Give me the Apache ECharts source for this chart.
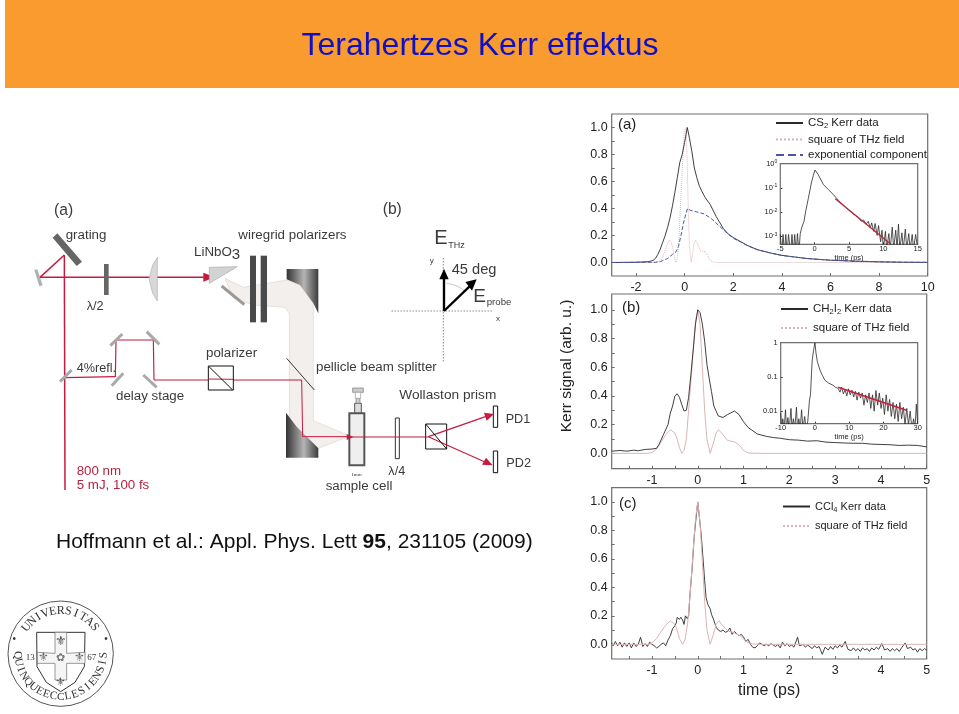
<!DOCTYPE html>
<html>
<head>
<meta charset="utf-8">
<title>Terahertzes Kerr effektus</title>
<script src="https://cdn.jsdelivr.net/npm/echarts@6/dist/echarts.min.js"></script>
<style>
  html, body { margin: 0; padding: 0; background: #fff; }
  #chart { width: 959px; height: 714px; }
</style>
</head>
<body>
<div id="chart"></div>
<script>
// tick labels
const yTicks = [0, 0.2, 0.4, 0.6, 0.8, 1.0]
const yTickMarks = [0, 0.1, 0.2, 0.3, 0.4, 0.5, 0.6, 0.7, 0.8, 0.9, 1.0]
const xTicksA = [-2, 0, 2, 4, 6, 8, 10]
const xTicksBC = [-1, 0, 1, 2, 3, 4, 5]
const xTickMarksBC = [-1.5, -1, -0.5, 0, 0.5, 1, 1.5, 2, 2.5, 3, 3.5, 4, 4.5, 5]
const logTicksA = [0.001, 0.01, 0.1, 1]
const logTicksB = [0.01, 0.1, 1]

// panel (a) CS2, [time ps, signal]
const cs2Kerr = [[-3, 0], [-2.5, 0.001], [-2, 0.002], [-1.5, 0.006], [-1.3, 0.015], [-1.2, 0.03], [-1.1, 0.06], [-1, 0.1], [-0.9, 0.15], [-0.8, 0.2], [-0.7, 0.26], [-0.6, 0.33], [-0.5, 0.42], [-0.4, 0.52], [-0.3, 0.63], [-0.2, 0.74], [-0.1, 0.8], [0, 0.89], [0.11, 1.0], [0.2, 0.92], [0.3, 0.82], [0.4, 0.7], [0.5, 0.63], [0.6, 0.57], [0.7, 0.53], [0.85, 0.48], [1.05, 0.43], [1.3, 0.34], [1.6, 0.25], [1.8, 0.21], [2, 0.185], [2.3, 0.155], [2.6, 0.125], [3, 0.095], [3.5, 0.072], [4, 0.053], [5, 0.03], [6, 0.017], [7, 0.01], [8, 0.005], [9, 0.002], [10, 0.001]]
const cs2Field = [[-3, 0], [-1.2, 0], [-1, 0.01], [-0.9, 0.04], [-0.8, 0.09], [-0.7, 0.14], [-0.62, 0.165], [-0.55, 0.15], [-0.48, 0.1], [-0.42, 0.04], [-0.36, 0], [-0.3, 0.03], [-0.24, 0.15], [-0.18, 0.38], [-0.1, 0.68], [-0.02, 0.95], [0.05, 1.0], [0.1, 0.78], [0.15, 0.4], [0.2, 0.12], [0.27, 0], [0.33, 0.07], [0.38, 0.14], [0.45, 0.165], [0.55, 0.13], [0.65, 0.09], [0.85, 0.08], [0.95, 0.05], [1.05, 0.015], [1.2, 0.002], [1.5, 0], [10, 0]]
const cs2Exp = [[-3, 0], [-1.2, 0.002], [-1, 0.006], [-0.7, 0.03], [-0.5, 0.06], [-0.35, 0.08], [-0.25, 0.12], [-0.15, 0.2], [-0.05, 0.29], [0.05, 0.36], [0.12, 0.4], [0.25, 0.385], [0.5, 0.375], [0.8, 0.36], [1.1, 0.325], [1.4, 0.275], [1.7, 0.225], [2, 0.18], [2.3, 0.152], [2.6, 0.123], [3, 0.094], [3.5, 0.071], [4, 0.052], [5, 0.03], [6, 0.017], [7, 0.01], [8, 0.005], [9, 0.002], [10, 0.001]]

// inset of (a), log scale
const cs2Log = [[-5, 0.0012], [-4.8, 0.0002], [-4.6, 0.0012], [-4.4, 0.0002], [-4.2, 0.0012], [-4, 0.0002], [-3.8, 0.0012], [-3.5, 0.0002], [-3.3, 0.0012], [-3.1, 0.0002], [-2.9, 0.0012], [-2.7, 0.0002], [-2.5, 0.0013], [-2.3, 0.0002], [-2.1, 0.0013], [-1.9, 0.0022], [-1.7, 0.0032], [-1.55, 0.0042], [-1.3, 0.011], [-0.92, 0.037], [-0.65, 0.09], [-0.44, 0.18], [-0.2, 0.32], [0.05, 0.55], [0.5, 0.36], [1.26, 0.14], [2, 0.085], [2.7, 0.054], [3.5, 0.03], [4.66, 0.0144], [5.5, 0.009], [6.3, 0.0062], [6.8, 0.0042], [7.1, 0.0048], [7.5, 0.0032], [7.8, 0.0042], [8.1, 0.0022], [8.3, 0.0036], [8.6, 0.0016], [8.8, 0.0034], [9.1, 0.0011], [9.3, 0.0028], [9.6, 0.0006], [9.8, 0.0018], [10, 0.0003], [10.3, 0.0016], [10.5, 0.0003], [10.8, 0.0013], [11, 0.0003], [11.3, 0.0024], [11.5, 0.0003], [11.8, 0.0018], [12, 0.0003], [12.2, 0.0032], [12.4, 0.0003], [12.7, 0.0014], [12.9, 0.0003], [13.2, 0.002], [13.4, 0.0003], [13.7, 0.0013], [13.9, 0.0003], [14.2, 0.0012], [14.4, 0.0003], [14.7, 0.0012], [15, 0.0003]]
const cs2Fit = [[3, 0.036], [11, 0.0005]]

// panel (b) CH2I2
const ch2i2Kerr = [[-1.88, 0.015], [-1.7, 0.02], [-1.55, 0.015], [-1.4, 0.022], [-1.3, 0.018], [-1.15, 0.027], [-1, 0.03], [-0.9, 0.035], [-0.85, 0.06], [-0.75, 0.13], [-0.65, 0.2], [-0.6, 0.28], [-0.55, 0.33], [-0.5, 0.4], [-0.45, 0.415], [-0.4, 0.39], [-0.35, 0.34], [-0.3, 0.295], [-0.25, 0.3], [-0.2, 0.39], [-0.15, 0.55], [-0.1, 0.72], [-0.05, 0.9], [0, 1.0], [0.05, 0.98], [0.1, 0.9], [0.15, 0.78], [0.2, 0.62], [0.25, 0.52], [0.3, 0.43], [0.35, 0.33], [0.45, 0.26], [0.55, 0.25], [0.65, 0.27], [0.8, 0.295], [0.9, 0.27], [1, 0.22], [1.1, 0.18], [1.3, 0.135], [1.5, 0.118], [1.65, 0.11], [1.8, 0.105], [2, 0.095], [2.2, 0.092], [2.4, 0.085], [2.6, 0.088], [2.8, 0.078], [3, 0.075], [3.2, 0.072], [3.4, 0.07], [3.6, 0.07], [3.8, 0.064], [4, 0.062], [4.2, 0.06], [4.4, 0.055], [4.6, 0.057], [4.8, 0.055], [5, 0.045]]
const ch2i2Field = [[-1.88, 0], [-1.1, 0], [-1, 0.005], [-0.9, 0.03], [-0.8, 0.08], [-0.7, 0.13], [-0.6, 0.165], [-0.5, 0.14], [-0.45, 0.1], [-0.4, 0.04], [-0.35, 0], [-0.3, 0.02], [-0.25, 0.1], [-0.2, 0.3], [-0.15, 0.5], [-0.1, 0.72], [-0.05, 0.92], [0, 1.0], [0.05, 0.9], [0.1, 0.6], [0.15, 0.3], [0.2, 0.1], [0.27, 0], [0.33, 0.06], [0.4, 0.14], [0.45, 0.165], [0.55, 0.13], [0.65, 0.09], [0.8, 0.08], [0.9, 0.06], [1, 0.02], [1.1, 0.003], [1.3, 0], [5, 0]]

// inset of (b)
const ch2i2Log = [[-10, 0.009], [-9.7, 0.003], [-9.4, 0.006], [-9, 0.003], [-8.6, 0.011], [-8.3, 0.003], [-7.9, 0.0065], [-7.5, 0.003], [-7, 0.012], [-6.7, 0.003], [-6.3, 0.006], [-5.9, 0.003], [-5.4, 0.013], [-5.1, 0.003], [-4.7, 0.006], [-4.3, 0.003], [-3.9, 0.011], [-3.5, 0.003], [-3, 0.007], [-2.6, 0.003], [-2.1, 0.005], [-1.6, 0.021], [-1.3, 0.03], [-1, 0.13], [-0.8, 0.31], [-0.4, 0.6], [0, 1], [0.3, 0.5], [0.7, 0.28], [1, 0.3], [1.45, 0.16], [2, 0.12], [2.9, 0.08], [4, 0.066], [5.3, 0.057], [6, 0.05], [6.8, 0.046], [7.3, 0.036], [7.8, 0.05], [8.3, 0.032], [8.8, 0.042], [9.3, 0.028], [9.8, 0.045], [10.3, 0.03], [10.8, 0.041], [11.3, 0.026], [11.8, 0.038], [12.3, 0.021], [12.8, 0.036], [13.3, 0.024], [13.8, 0.034], [14.3, 0.015], [14.8, 0.03], [15.3, 0.018], [15.8, 0.034], [16.3, 0.012], [16.8, 0.03], [17.3, 0.01], [17.8, 0.04], [18.3, 0.015], [18.8, 0.034], [19.3, 0.012], [19.8, 0.024], [20.3, 0.008], [20.8, 0.03], [21.3, 0.01], [21.8, 0.022], [22.3, 0.007], [22.8, 0.018], [23.3, 0.006], [23.8, 0.016], [24.3, 0.005], [24.8, 0.018], [25.3, 0.006], [25.8, 0.013], [26.3, 0.004], [26.8, 0.012], [27.3, 0.004], [27.8, 0.01], [28.3, 0.003], [28.8, 0.006], [29.2, 0.003], [29.6, 0.016], [30, 0.004]]
const ch2i2Fit = [[6.8, 0.05], [26.7, 0.0107]]

// panel (c) CCl4
const ccl4Kerr = [[-1.88, 0.01], [-1.85, -0.01], [-1.8, 0.02], [-1.75, -0.01], [-1.7, 0.015], [-1.65, -0.02], [-1.6, 0.01], [-1.55, -0.015], [-1.5, 0.01], [-1.45, -0.025], [-1.4, 0.01], [-1.35, -0.015], [-1.3, 0], [-1.25, 0.05], [-1.2, -0.015], [-1.15, 0.005], [-1.1, -0.015], [-1.05, 0.015], [-1, 0], [-0.95, -0.01], [-0.9, -0.025], [-0.85, -0.015], [-0.8, 0], [-0.75, 0.01], [-0.7, -0.01], [-0.65, 0.03], [-0.6, 0.06], [-0.55, 0.11], [-0.5, 0.13], [-0.47, 0.15], [-0.45, 0.19], [-0.4, 0.175], [-0.37, 0.19], [-0.33, 0.17], [-0.3, 0.14], [-0.27, 0.2], [-0.23, 0.18], [-0.2, 0.2], [-0.17, 0.35], [-0.12, 0.55], [-0.08, 0.75], [-0.04, 0.88], [0, 1.0], [0.04, 0.88], [0.08, 0.75], [0.12, 0.58], [0.15, 0.45], [0.18, 0.33], [0.22, 0.28], [0.27, 0.25], [0.3, 0.21], [0.35, 0.17], [0.4, 0.12], [0.45, 0.1], [0.5, 0.09], [0.55, 0.1], [0.6, 0.085], [0.65, 0.09], [0.7, 0.115], [0.75, 0.07], [0.8, 0.09], [0.85, 0.075], [0.9, 0.06], [0.95, 0.07], [1, 0.05], [1.05, 0.02], [1.1, 0.035], [1.15, 0], [1.2, -0.02], [1.25, -0.025], [1.3, -0.01], [1.35, 0.01], [1.4, 0], [1.45, -0.01], [1.5, 0], [1.55, -0.01], [1.6, 0.005], [1.65, -0.005], [1.7, -0.015], [1.75, 0], [1.8, -0.025], [1.85, 0.015], [1.9, -0.01], [1.95, 0.005], [2, -0.015], [2.05, -0.005], [2.1, -0.02], [2.18, 0.05], [2.22, -0.01], [2.3, 0], [2.35, -0.02], [2.4, -0.005], [2.5, -0.03], [2.55, -0.01], [2.6, -0.025], [2.65, -0.015], [2.72, -0.07], [2.78, -0.02], [2.85, -0.04], [2.9, -0.015], [2.95, -0.035], [3, -0.01], [3.05, -0.025], [3.1, -0.005], [3.15, -0.02], [3.22, 0.02], [3.28, -0.035], [3.35, -0.045], [3.4, -0.025], [3.45, -0.045], [3.5, -0.03], [3.55, -0.05], [3.6, -0.025], [3.65, -0.04], [3.7, -0.03], [3.75, -0.05], [3.8, -0.025], [3.85, -0.04], [3.9, -0.02], [3.95, -0.035], [4.02, 0.005], [4.08, -0.04], [4.15, -0.03], [4.2, -0.05], [4.25, -0.03], [4.3, -0.045], [4.35, -0.03], [4.4, -0.05], [4.45, -0.025], [4.53, 0.01], [4.58, -0.03], [4.65, -0.02], [4.7, -0.04], [4.75, -0.03], [4.8, -0.055], [4.85, -0.03], [4.9, -0.045], [4.95, -0.03], [5, -0.04]]
const ccl4Field = [[-1.88, 0], [-1.05, 0], [-1, 0.01], [-0.9, 0.04], [-0.8, 0.09], [-0.7, 0.135], [-0.6, 0.165], [-0.5, 0.14], [-0.45, 0.1], [-0.4, 0.04], [-0.33, 0], [-0.28, 0.03], [-0.22, 0.15], [-0.16, 0.38], [-0.1, 0.66], [-0.05, 0.88], [0, 1.0], [0.05, 0.85], [0.1, 0.58], [0.15, 0.3], [0.2, 0.1], [0.27, 0], [0.33, 0.06], [0.4, 0.14], [0.46, 0.165], [0.55, 0.13], [0.65, 0.095], [0.8, 0.08], [0.95, 0.055], [1.05, 0.02], [1.2, 0.002], [1.4, 0], [5, 0]]

const blackLine = '#2a2a2a'
const fieldLine = '#dcb4b6'
const blueLine = '#4a55a8'
const frameColor = '#6e6e6e'
const font = 'Liberation Sans'

// plot boxes in pixels
const boxes = [
  { left: 611.7, top: 114, width: 316, height: 162 },
  { left: 611.7, top: 294, width: 315, height: 174.7 },
  { left: 611.7, top: 487.7, width: 315, height: 171.3 },
  { left: 780.3, top: 163.7, width: 137.4, height: 80.6 },
  { left: 780.7, top: 342.7, width: 137, height: 81 }
]

function mainX(min, max, marks, labels, extra) {
  return Object.assign({
    type: 'value', min, max,
    splitLine: { show: false },
    axisLine: { show: false, onZero: false },
    axisTick: { inside: true, length: 3, lineStyle: { color: frameColor }, customValues: marks },
    axisLabel: { fontFamily: font, fontSize: 12.5, color: '#222', margin: 5, customValues: labels }
  }, extra)
}
function mainY(min, max) {
  return {
    type: 'value', min, max,
    splitLine: { show: false },
    axisLine: { show: false, onZero: false },
    axisTick: { inside: true, length: 3, lineStyle: { color: frameColor }, customValues: yTickMarks },
    axisLabel: {
      fontFamily: font, fontSize: 12.5, color: '#222', margin: 4, customValues: yTicks,
      formatter: v => v.toFixed(1)
    }
  }
}
function insetX(min, max, interval, margin, nameGap) {
  return {
    type: 'value', min, max, interval,
    splitLine: { show: false },
    axisLine: { show: false, onZero: false },
    axisTick: { inside: true, length: 2, lineStyle: { color: '#333' } },
    axisLabel: { fontFamily: font, fontSize: 7.5, color: '#222', margin },
    name: 'time (ps)', nameLocation: 'middle', nameGap,
    nameTextStyle: { fontFamily: font, fontSize: 7.5, color: '#222' }
  }
}
function insetY(min, max, ticks, formatter, rich) {
  return {
    type: 'log', logBase: 10, min, max,
    splitLine: { show: false },
    axisLine: { show: false, onZero: false },
    axisTick: { inside: true, length: 2, lineStyle: { color: '#333' }, customValues: ticks },
    axisLabel: { fontFamily: font, fontSize: 7.5, color: '#222', margin: 3, customValues: ticks, formatter, rich }
  }
}
function line(name, data, idx, color, width, type, z) {
  return {
    name, data, type: 'line', xAxisIndex: idx, yAxisIndex: idx,
    symbol: 'none', smooth: false, silent: true, z: z || 2, animation: false,
    lineStyle: { color, width, type: type || 'solid' },
    itemStyle: { color }
  }
}

// schematic, coordinates are in the 3x crop space of each group
const labelGray = '#3a3a3a'
const beam = '#c51b3f'
function txt(x, y, text, size, color, extra) {
  return {
    type: 'text', x, y,
    style: Object.assign({
      text, fontFamily: font, fontSize: size, fill: color || labelGray,
      verticalAlign: 'middle', align: 'left'
    }, extra)
  }
}
function poly(points, fill, stroke, lw) {
  return { type: 'polygon', shape: { points }, style: { fill: fill || 'none', stroke: stroke || 'none', lineWidth: lw || 1 } }
}
function seg(x1, y1, x2, y2, color, lw, dash) {
  return { type: 'line', shape: { x1, y1, x2, y2 }, style: { stroke: color, lineWidth: lw, lineDash: dash || null } }
}
function box(x, y, width, height, fill, stroke, lw) {
  return { type: 'rect', shape: { x, y, width, height }, style: { fill: fill || 'none', stroke: stroke || 'none', lineWidth: lw || 1 } }
}
const mirrorFill = {
  type: 'linear', x: 0, y: 0, x2: 1, y2: 0,
  colorStops: [{ offset: 0, color: '#333' }, { offset: 0.55, color: '#b5b5b5' }, { offset: 1, color: '#3c3c3c' }]
}

const leftParts = [
  poly([[585, 265], [640, 292], [770, 270], [810, 285], [850, 340], [850, 692], [960, 738], [865, 775], [778, 690], [778, 370], [765, 352], [670, 345], [610, 325]], '#f2efed', '#cfcbc9', 1.5),
  txt(72, 62, '(a)', 47),
  poly([[68, 143], [82, 130], [156, 215], [140, 228]], '#666'),
  txt(107, 137, 'grating', 40),
  poly([[13, 240], [22, 238], [38, 286], [28, 289]], '#b0b0b0'),
  seg(105, 900, 103, 195, beam, 4.5),
  seg(103, 195, 30, 262, beam, 4.5),
  seg(30, 262, 525, 262, beam, 4.5),
  poly([[520, 248], [555, 262], [520, 275]], beam),
  box(222, 222, 14, 93, '#666'),
  txt(170, 350, 'λ/2', 38),
  poly([[382, 202], [368, 225], [357, 267], [368, 310], [382, 333]], '#d8d8d8', '#b0b0b0', 2),
  poly([[538, 232], [622, 230], [538, 280]], '#d2d4d4', '#a9a9a9', 2),
  { type: 'text', x: 492, y: 187, style: {
    text: 'LiNbO{s|3}', fontFamily: font, fontSize: 40, fill: labelGray, verticalAlign: 'middle',
    rich: { s: { fontFamily: font, fontSize: 45, fill: labelGray, verticalAlign: 'bottom', padding: [14, 0, 0, 0] } }
  } },
  seg(575, 288, 643, 344, '#9a9a9a', 9),
  box(660, 197, 18, 200, '#4a4a4a'),
  box(692, 197, 19, 200, '#4a4a4a'),
  txt(625, 137, 'wiregrid polarizers', 40),
  poly([[770, 237], [865, 237], [865, 370], [850, 340], [810, 285], [770, 268]], mirrorFill),
  poly([[768, 668], [800, 710], [865, 775], [865, 803], [768, 803]], mirrorFill),
  seg(770, 505, 853, 600, '#111', 2.5),
  seg(105, 563, 255, 560, beam, 3.5),
  seg(256, 561, 258, 450, beam, 3.5),
  seg(258, 450, 370, 450, beam, 3.5),
  seg(370, 450, 372, 570, beam, 3.5),
  seg(372, 570, 815, 570, beam, 3),
  seg(815, 570, 818, 740, beam, 3),
  seg(818, 740, 960, 740, beam, 3),
  seg(90, 575, 125, 540, '#a9a9a9', 9),
  seg(241, 467, 277, 432, '#a9a9a9', 9),
  seg(350, 425, 388, 463, '#a9a9a9', 9),
  seg(245, 587, 280, 550, '#a9a9a9', 9),
  seg(340, 555, 380, 592, '#a9a9a9', 9),
  txt(140, 535, '4%refl.', 38),
  txt(258, 620, 'delay stage', 40),
  txt(528, 490, 'polarizer', 40),
  box(535, 528, 75, 72, '#fff', '#111', 3),
  seg(535, 567, 610, 568, beam, 3),
  seg(537, 530, 608, 600, '#111', 3),
  txt(140, 843, '800 nm', 40, '#b3243f'),
  txt(140, 887, '5 mJ, 100 fs', 40, '#b3243f')
]

const rightParts = [
  txt(308, 60, '(b)', 47),
  txt(463, 145, 'E', 60),
  txt(505, 166, 'THz', 27),
  txt(449, 213, 'y', 24),
  seg(490, 205, 490, 520, '#333', 2.5, [3, 6]),
  seg(335, 363, 640, 363, '#333', 2.5, [3, 6]),
  { type: 'bezierCurve', shape: { x1: 500, y1: 280, x2: 552, y2: 302, cpx1: 530, cpy1: 284, cpx2: 545, cpy2: 295 }, style: { fill: 'none', stroke: '#aaa', lineWidth: 2 } },
  seg(492, 363, 492, 260, '#000', 7),
  poly([[478, 268], [492, 236], [506, 268]], '#000'),
  seg(492, 363, 568, 290, '#000', 7),
  poly([[556, 276], [590, 268], [576, 302]], '#000'),
  txt(515, 240, '45 deg', 44),
  txt(580, 320, 'E', 57),
  txt(620, 338, 'probe', 29),
  txt(648, 386, 'x', 24),
  txt(108, 531, 'pellicle beam splitter', 40),
  txt(358, 617, 'Wollaston prism', 41),
  txt(677, 688, 'PD1', 38),
  txt(679, 820, 'PD2', 38),
  box(640, 648, 13, 64, '#fff', '#111', 3),
  box(640, 783, 13, 65, '#fff', '#111', 3),
  box(224, 640, 20, 30, '#ddd', '#555', 3),
  box(228, 625, 12, 15, '#ccc', '#777', 2),
  box(218, 594, 32, 13, '#ccc', '#777', 2),
  box(226, 607, 16, 18, '#fff', '#999', 2),
  box(208, 670, 45, 156, '#efefef', '#555', 6),
  seg(210, 741, 253, 741, beam, 3),
  poly([[200, 732], [220, 741], [200, 750]], beam),
  txt(214, 854, '1mm', 15, '#333', { fontFamily: 'Liberation Serif' }),
  box(346, 684, 12, 122, '#fff', '#333', 3),
  seg(253, 741, 440, 741, beam, 3),
  txt(325, 846, 'λ/4', 38),
  txt(137, 889, 'sample cell', 40),
  box(437, 702, 63, 75, '#fff', '#111', 3),
  seg(437, 741, 445, 741, beam, 3),
  seg(445, 740, 625, 677, beam, 3.5),
  poly([[612, 668], [642, 672], [620, 692]], beam),
  seg(445, 740, 620, 818, beam, 3.5),
  poly([[618, 803], [638, 826], [606, 824]], beam),
  seg(437, 702, 500, 777, '#111', 3)
]

// university seal
const sealCenter = [182, 176]
const sealTop = 'UNIVERSITAS'
const sealBottom = 'QUINQUEECCLESIENSIS'
function sealParts() {
  const [cx, cy] = sealCenter
  const parts = [
    { type: 'circle', shape: { cx, cy, r: 158 }, style: { fill: 'none', stroke: '#555', lineWidth: 3 } },
    poly([[110, 112], [255, 112], [253, 215], [225, 262], [182, 290], [139, 262], [111, 215]], '#fff', '#333', 3),
    poly([[165, 112], [200, 112], [200, 175], [255, 172], [255, 205], [200, 205], [200, 255], [165, 255], [165, 205], [112, 205], [112, 172], [165, 175]], '#f5f5f5', '#666', 2),
    txt(182, 140, '⚜', 38, '#555', { align: 'center' }),
    txt(130, 188, '⚜', 36, '#666', { align: 'center' }),
    txt(237, 188, '⚜', 36, '#666', { align: 'center' }),
    txt(182, 262, '⚜', 36, '#555', { align: 'center' }),
    txt(182, 188, '✿', 34, '#777', { align: 'center' }),
    txt(91, 187, '13', 27, '#333', { fontFamily: 'Liberation Serif', align: 'center' }),
    txt(275, 187, '67', 27, '#333', { fontFamily: 'Liberation Serif', align: 'center' }),
    txt(43, 134, '•', 30, '#333', { align: 'center' }),
    txt(318, 134, '•', 30, '#333', { align: 'center' })
  ]
  const r = 129
  // top arc runs clockwise from the left over the top
  const topStart = -142, topEnd = -38
  sealTop.split('').forEach((ch, i) => {
    const a = (topStart + (topEnd - topStart) * i / (sealTop.length - 1)) * Math.PI / 180
    parts.push({
      type: 'text', x: cx + r * Math.cos(a), y: cy + r * Math.sin(a), rotation: -(a + Math.PI / 2),
      style: { text: ch, fontFamily: 'Liberation Serif', fontSize: 36, fill: '#333', align: 'center', verticalAlign: 'middle' }
    })
  })
  // bottom arc runs counter clockwise from the left under the bottom
  const botStart = 178, botEnd = 2
  sealBottom.split('').forEach((ch, i) => {
    const a = (botStart + (botEnd - botStart) * i / (sealBottom.length - 1)) * Math.PI / 180
    parts.push({
      type: 'text', x: cx + r * Math.cos(a), y: cy + r * Math.sin(a), rotation: -(a - Math.PI / 2),
      style: { text: ch, fontFamily: 'Liberation Serif', fontSize: 34, fill: '#333', align: 'center', verticalAlign: 'middle' }
    })
  })
  return parts
}

const myChart = echarts.init(document.getElementById('chart'), null, { renderer: 'canvas' })

const subRich = { s: { fontFamily: font, fontSize: 7.5, color: '#222', verticalAlign: 'bottom', padding: [6, 0, 0, 0] } }
const subNames = { 'CS2 Kerr data': 'CS{s|2} Kerr data', 'CH2I2 Kerr data': 'CH{s|2}I{s|2} Kerr data', 'CCl4 Kerr data': 'CCl{s|4} Kerr data' }
function legendAt(left, top, data, gap, size) {
  return {
    left, top, orient: 'vertical', data, itemWidth: 27, itemHeight: 8, itemGap: gap,
    selectedMode: false, formatter: n => subNames[n] || n,
    itemStyle: { color: 'transparent', borderWidth: 0 },
    textStyle: { fontFamily: font, fontSize: size, color: '#222', rich: subRich }
  }
}

const option = {
  animation: false,
  backgroundColor: '#fff',
  grid: boxes.map(b => Object.assign({ show: true, borderColor: frameColor, borderWidth: 1.2, backgroundColor: 'transparent', z: 1 }, b)),
  xAxis: [
    Object.assign(mainX(-3, 10, xTicksA, xTicksA), { gridIndex: 0 }),
    Object.assign(mainX(-1.88, 5, xTickMarksBC, xTicksBC), { gridIndex: 1 }),
    Object.assign(mainX(-1.88, 5, xTickMarksBC, xTicksBC, {
      name: 'time (ps)', nameLocation: 'middle', nameGap: 24,
      nameTextStyle: { fontFamily: font, fontSize: 16, color: '#222' }
    }), { gridIndex: 2 }),
    Object.assign(insetX(-5, 15, 5, 1, 6), { gridIndex: 3 }),
    Object.assign(insetX(-10, 30, 10, 0, 2), { gridIndex: 4 })
  ],
  yAxis: [
    Object.assign(mainY(-0.1, 1.1), { gridIndex: 0 }),
    Object.assign(mainY(-0.107, 1.11), { gridIndex: 1 }),
    Object.assign(mainY(-0.103, 1.1), { gridIndex: 2 }),
    Object.assign(insetY(0.00047, 1, logTicksA, v => '10{e|' + Math.round(Math.log10(v)) + '}', {
      e: { fontFamily: font, fontSize: 5, color: '#222', verticalAlign: 'bottom', padding: [0, 0, 4, 0] }
    }), { gridIndex: 3 }),
    Object.assign(insetY(0.0043, 1, logTicksB, v => String(v)), { gridIndex: 4 })
  ],
  legend: [
    legendAt(770, 112, ['CS2 Kerr data', 'square of THz field', 'exponential component'], 3.5, 11.5),
    legendAt(775, 298, ['CH2I2 Kerr data', 'square of THz field'], 6, 11.5),
    legendAt(777, 496, ['CCl4 Kerr data', 'square of THz field'], 7, 11)
  ],
  series: [
    line('square of THz field', cs2Field, 0, fieldLine, 1, 'dotted', 2),
    line('exponential component', cs2Exp, 0, blueLine, 1, 'dashed', 3),
    line('CS2 Kerr data', cs2Kerr, 0, blackLine, 0.9, 'solid', 2),
    line('square of THz field', ch2i2Field, 1, fieldLine, 1, 'solid', 2),
    line('CH2I2 Kerr data', ch2i2Kerr, 1, blackLine, 0.9, 'solid', 3),
    line('square of THz field', ccl4Field, 2, fieldLine, 1, 'solid', 3),
    line('CCl4 Kerr data', ccl4Kerr, 2, blackLine, 0.9, 'solid', 2),
    line('CS2 log data', cs2Log, 3, blackLine, 0.8, 'solid', 2),
    line('CS2 fit', cs2Fit, 3, '#b5283a', 1.3, 'solid', 3),
    line('CH2I2 log data', ch2i2Log, 4, blackLine, 0.8, 'solid', 2),
    line('CH2I2 fit', ch2i2Fit, 4, '#c81f3c', 1.6, 'solid', 3)
  ],
  graphic: [
    { type: 'rect', z: 0, shape: { x: 5, y: 0, width: 954, height: 88 }, style: { fill: '#f99b2f' } },
    { type: 'text', x: 480, y: 46, style: { text: 'Terahertzes Kerr effektus', fontFamily: font, fontSize: 32, fill: '#1010c4', align: 'center', verticalAlign: 'middle' } },
    {
      type: 'text', x: 56, y: 542,
      style: {
        text: 'Hoffmann et al.: Appl. Phys. Lett {b|95}, 231105 (2009)',
        fontFamily: font, fontSize: 21, fill: '#111', verticalAlign: 'middle',
        rich: { b: { fontFamily: font, fontSize: 21, fontWeight: 'bold', fill: '#111' } }
      }
    },
    { type: 'text', x: 567, y: 366, rotation: Math.PI / 2, style: { text: 'Kerr signal (arb. u.)', fontFamily: font, fontSize: 15.5, fill: '#222', align: 'center', verticalAlign: 'middle' } },
    { type: 'text', x: 618, y: 125, style: { text: '(a)', fontFamily: font, fontSize: 15, fill: '#222', verticalAlign: 'middle' } },
    { type: 'text', x: 622, y: 308, style: { text: '(b)', fontFamily: font, fontSize: 15, fill: '#222', verticalAlign: 'middle' } },
    { type: 'text', x: 619, y: 504, style: { text: '(c)', fontFamily: font, fontSize: 15, fill: '#222', verticalAlign: 'middle' } },
    { type: 'group', x: 30, y: 190, scaleX: 1 / 3, scaleY: 1 / 3, children: leftParts },
    { type: 'group', x: 280, y: 190, scaleX: 1 / 3, scaleY: 1 / 3, children: rightParts },
    { type: 'group', x: 0, y: 595, scaleX: 1 / 3, scaleY: 1 / 3, children: sealParts() }
  ]
}

myChart.setOption(option)
</script>
</body>
</html>
